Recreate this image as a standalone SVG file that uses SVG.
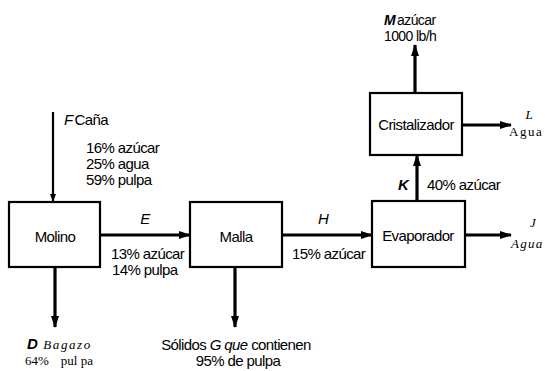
<svg xmlns="http://www.w3.org/2000/svg" width="545" height="371" viewBox="0 0 545 371">
<defs>
<marker id="ah" markerWidth="12" markerHeight="8" refX="11" refY="4" orient="auto" markerUnits="userSpaceOnUse">
<path d="M0,0 L12,4 L0,8 Z" fill="#000"/>
</marker>
<marker id="ahs" markerWidth="8" markerHeight="8" refX="7" refY="4" orient="auto" markerUnits="userSpaceOnUse">
<path d="M0,1 L8,4 L0,7 Z" fill="#000"/>
</marker>
</defs>
<style>
.box{fill:#fff;stroke:#000;stroke-width:2.2}
.ln{stroke:#000;stroke-width:3.2;fill:none}
.t{font-family:"Liberation Sans",Arial,sans-serif;font-size:15px;fill:#000;letter-spacing:-0.6px}
.n{font-family:"Liberation Sans",Arial,sans-serif;font-size:15px;fill:#000;letter-spacing:-0.6px}
.i{font-style:italic}
.s{font-family:"Liberation Serif","Times New Roman",serif;font-size:13px;fill:#000}
</style>
<rect width="545" height="371" fill="#fff"/>
<g id="connectors">
<line class="ln" x1="53" y1="112" x2="53" y2="201" style="stroke-width:2.2" marker-end="url(#ahs)"/>
<line class="ln" x1="100" y1="235" x2="190" y2="235" marker-end="url(#ah)"/>
<line class="ln" x1="55" y1="267" x2="55" y2="327" marker-end="url(#ah)"/>
<line class="ln" x1="282" y1="235" x2="372" y2="235" marker-end="url(#ah)"/>
<line class="ln" x1="235" y1="267" x2="235" y2="327" marker-end="url(#ah)"/>
<line class="ln" x1="417" y1="201" x2="417" y2="155" marker-end="url(#ah)"/>
<line class="ln" x1="415" y1="93" x2="415" y2="45" marker-end="url(#ah)"/>
<line class="ln" x1="462" y1="125" x2="511" y2="125" marker-end="url(#ah)"/>
<line class="ln" x1="465" y1="235" x2="511" y2="235" marker-end="url(#ah)"/>
</g>
<g id="molino">
<rect class="box" x="9" y="202" width="91" height="65"/>
<text class="n" x="55" y="242" text-anchor="middle">Molino</text>
</g>
<g id="malla">
<rect class="box" x="190" y="202" width="92" height="65"/>
<text class="n" x="236" y="242" text-anchor="middle">Malla</text>
</g>
<g id="evaporador">
<rect class="box" x="372" y="201" width="93" height="66"/>
<text class="n" x="418" y="241" text-anchor="middle">Evaporador</text>
</g>
<g id="cristalizador">
<rect class="box" x="370" y="93" width="92" height="62"/>
<text class="n" x="416" y="130" text-anchor="middle">Cristalizador</text>
</g>
<g id="labels">
<text class="t" x="64" y="125"><tspan class="i">F</tspan><tspan dx="2">Caña</tspan></text>
<text class="t" x="86" y="153">16% azúcar</text>
<text class="t" x="86" y="169">25% agua</text>
<text class="t" x="86" y="185">59% pulpa</text>
<text class="t i" x="145" y="224" text-anchor="middle">E</text>
<text class="t" x="111" y="259">13% azúcar</text>
<text class="t" x="112" y="275">14% pulpa</text>
<text class="t i" x="323" y="224" text-anchor="middle">H</text>
<text class="t" x="292" y="259">15% azúcar</text>
<text class="t" x="27" y="349"><tspan class="i" style="font-weight:bold">D</tspan><tspan class="s i" style="letter-spacing:1.6px" dx="6">Bagazo</tspan></text>
<text class="s" x="25" y="365">64%<tspan dx="12">pul pa</tspan></text>
<text class="t" x="236" y="350" text-anchor="middle">Sólidos <tspan class="i">G que</tspan> contienen</text>
<text class="t" x="238" y="366" text-anchor="middle">95% de pulpa</text>
<text class="t i" x="403" y="190" text-anchor="middle" style="font-weight:bold">K</text>
<text class="t" x="427" y="190">40% azúcar</text>
<text class="t" x="384" y="25" style="font-size:14px"><tspan class="i" style="font-weight:bold">M</tspan><tspan dx="2">azúcar</tspan></text>
<text class="t" x="384" y="41" style="font-size:14px">1000 lb/h</text>
<text class="s i" x="529" y="119" text-anchor="middle">L</text>
<text class="s" x="509" y="136" style="letter-spacing:1.5px">Agua</text>
<text class="s i" x="533" y="227" text-anchor="middle">J</text>
<text class="s i" x="511" y="248" style="letter-spacing:1.3px">Agua</text>
</g>
</svg>
